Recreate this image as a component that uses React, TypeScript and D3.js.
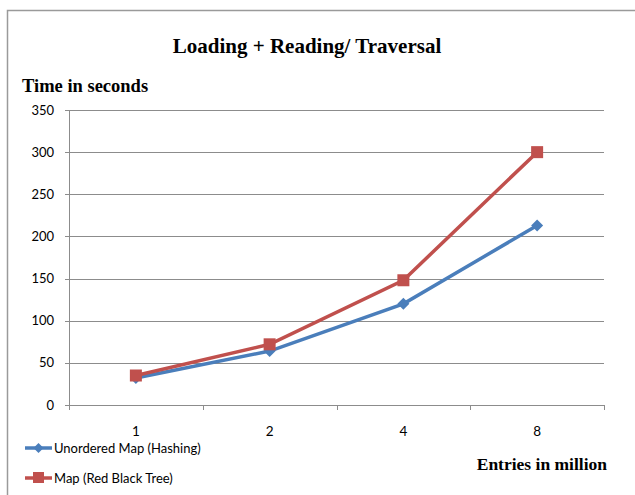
import React from "react";
import * as d3 from "d3";

// Entries (in million) on the x axis
const categories = ["1", "2", "4", "8"];
// Seconds for each structure
const unorderedMap = [32, 64, 120, 213];
const redBlackMap = [35, 72, 148, 300];
const yTicks = [0, 50, 100, 150, 200, 250, 300, 350];

const seriesNames = ["Unordered Map (Hashing)", "Map (Red Black Tree)"];

const W = 635;
const H = 495;
const plot = { left: 69, right: 604, top: 110, bottom: 405 };

const BLUE = "#4A7EBB";
const RED = "#C0504D";
const GRID = "#8C8C8C";
const SANS = "Lato, 'Liberation Sans', sans-serif";
const SERIF = "'Liberation Serif', 'Times New Roman', serif";

export default function App() {
  const x = d3
    .scaleBand<string>()
    .domain(categories)
    .range([plot.left, plot.right]);
  const y = d3.scaleLinear().domain([0, 350]).range([plot.bottom, plot.top]);

  const line = d3
    .line<number>()
    .x((_, i) => (x(categories[i]) as number) + x.bandwidth() / 2)
    .y((d) => y(d));

  const cx = (i: number) => (x(categories[i]) as number) + x.bandwidth() / 2;
  const diamond = (px: number, py: number, r: number) =>
    `M${px},${py - r}L${px + r},${py}L${px},${py + r}L${px - r},${py}Z`;

  const boundaries = [...categories.map((c) => x(c) as number), plot.right];

  return (
    <svg
      width={W}
      height={H}
      style={{ position: "absolute", left: 0, top: 0, background: "#fff" }}
    >
      {/* chart frame */}
      <path d={`M7.5,${H}V10.5H${W}`} fill="none" stroke="#9A9A9A" strokeWidth={1.5} />

      <text
        x={307}
        y={53}
        textAnchor="middle"
        fontFamily={SERIF}
        fontWeight="bold"
        fontSize={21}
        fill="#000"
      >
        Loading + Reading/ Traversal
      </text>
      <text x={22} y={92} fontFamily={SERIF} fontWeight="bold" fontSize={18.5} fill="#000">
        Time in seconds
      </text>

      {/* gridlines and y ticks */}
      {yTicks.map((t) => (
        <g key={t}>
          <line
            x1={plot.left - 4}
            x2={plot.right}
            y1={Math.round(y(t)) + 0.5}
            y2={Math.round(y(t)) + 0.5}
            stroke={GRID}
            strokeWidth={1}
          />
          <text
            x={54}
            y={y(t) + 4.5}
            textAnchor="end"
            fontFamily={SANS}
            fontSize={13}
            fill="#000"
          >
            {t}
          </text>
        </g>
      ))}
      <line
        x1={plot.left + 0.5}
        x2={plot.left + 0.5}
        y1={plot.top}
        y2={plot.bottom}
        stroke={GRID}
        strokeWidth={1}
      />

      {/* x ticks and labels */}
      {boundaries.map((b, i) => (
        <line
          key={i}
          x1={Math.round(b) + 0.5}
          x2={Math.round(b) + 0.5}
          y1={plot.bottom}
          y2={plot.bottom + 5}
          stroke={GRID}
          strokeWidth={1}
        />
      ))}
      {categories.map((c, i) => (
        <text
          key={c}
          x={cx(i)}
          y={436}
          textAnchor="middle"
          fontFamily={SANS}
          fontSize={13.5}
          fill="#000"
        >
          {c}
        </text>
      ))}

      {/* series */}
      <path d={line(unorderedMap) || ""} fill="none" stroke={BLUE} strokeWidth={3.5} />
      <path d={line(redBlackMap) || ""} fill="none" stroke={RED} strokeWidth={3.5} />
      {unorderedMap.map((v, i) => (
        <path key={"u" + i} d={diamond(cx(i), y(v), 6)} fill={BLUE} />
      ))}
      {redBlackMap.map((v, i) => (
        <rect key={"r" + i} x={cx(i) - 6} y={y(v) - 6} width={12} height={12} fill={RED} />
      ))}

      {/* legend */}
      <line x1={25} x2={52} y1={448} y2={448} stroke={BLUE} strokeWidth={3.5} />
      <path d={diamond(38.5, 448, 5)} fill={BLUE} />
      <text x={54} y={453} fontFamily={SANS} fontSize={13} fill="#000">
        {seriesNames[0]}
      </text>
      <line x1={25} x2={52} y1={478} y2={478} stroke={RED} strokeWidth={3.5} />
      <rect x={33} y={472} width={11} height={11} fill={RED} />
      <text x={54} y={483} fontFamily={SANS} fontSize={13} fill="#000">
        {seriesNames[1]}
      </text>

      <text
        x={607}
        y={470}
        textAnchor="end"
        fontFamily={SERIF}
        fontWeight="bold"
        fontSize={17.5}
        fill="#000"
      >
        Entries in million
      </text>
    </svg>
  );
}
